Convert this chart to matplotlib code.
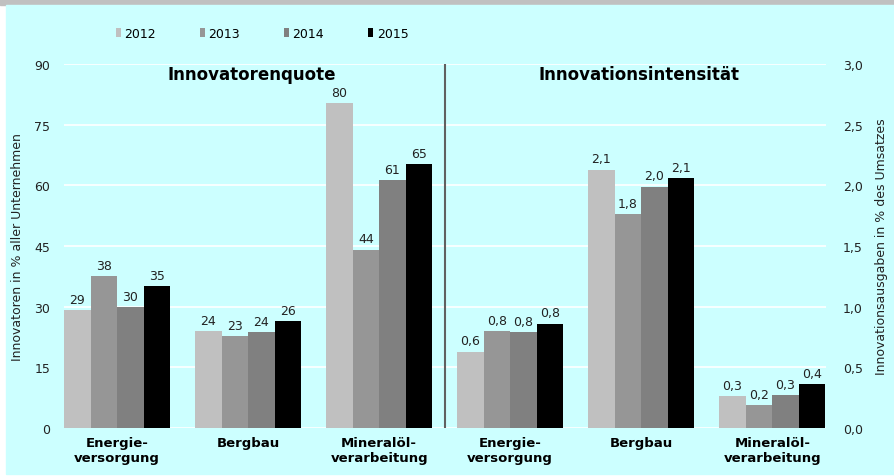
import matplotlib
matplotlib.use('Agg')
import matplotlib.pyplot as plt
from matplotlib.patches import Rectangle
import numpy

# values
years=['2012','2013','2014','2015']
branchen=['Energie-\nversorgung','Bergbau','Mineralöl-\nverarbeitung']
quote={'2012':[29.1,23.9,80.4],
       '2013':[37.6,22.8,44.1],
       '2014':[29.8,23.8,61.2],
       '2015':[35.1,26.4,65.3]}
quote_lab={'2012':[29,24,80],'2013':[38,23,44],'2014':[30,24,61],'2015':[35,26,65]}
intens={'2012':[0.63,2.13,0.26],
        '2013':[0.80,1.76,0.19],
        '2014':[0.79,1.99,0.27],
        '2015':[0.86,2.06,0.36]}
intens_lab={'2012':[0.6,2.1,0.3],'2013':[0.8,1.8,0.2],'2014':[0.8,2.0,0.3],'2015':[0.8,2.1,0.4]}
colors={'2012':'#C0C0C0','2013':'#969696','2014':'#808080','2015':'#000000'}

plt.rcParams['font.family']='DejaVu Sans'
fig=plt.figure(figsize=(8.95,4.77),dpi=100)
fig.patch.set_facecolor('white')
# background: gray band on top, cyan panel (behind the axes)
fig.patches.append(Rectangle((0,1-6/477),1,6/477,transform=fig.transFigure,color='#C0C0C0',zorder=-2))
fig.patches.append(Rectangle((6/895,2/477),1,1-8/477,transform=fig.transFigure,color='#CCFFFF',zorder=-2))

ax=fig.add_axes([64/895,1-429/477,762/895,364/477])
ax.set_facecolor('none')
ax2=ax.twinx()

w=0.2025
xl=numpy.arange(3)
xr=numpy.arange(3)+3
for i,y in enumerate(years):
   off=(i-1.5)*w
   ax.bar(xl+off,quote[y],w,color=colors[y],label=y,zorder=3)
   for k,v in enumerate(quote[y]):
      ax.annotate(str(quote_lab[y][k]),(xl[k]+off,v),xytext=(0,3),textcoords='offset points',
                  ha='center',va='bottom',fontsize=9,color='#222222')
   ax2.bar(xr+off,intens[y],w,color=colors[y],zorder=3)
   for k,v in enumerate(intens[y]):
      ax2.annotate(('%.1f'%intens_lab[y][k]).replace('.',','),(xr[k]+off,v),xytext=(0,3),
                   textcoords='offset points',ha='center',va='bottom',fontsize=9,color='#222222')

ax.set_xlim(-0.405,5.41)
ax.set_ylim(0,90)
ax2.set_ylim(0,3.0)
ax.set_yticks(numpy.arange(0,91,15))
ax2.set_yticks(numpy.arange(0,3.01,0.5))
ax2.set_yticklabels([('%.1f'%t).replace('.',',') for t in numpy.arange(0,3.01,0.5)])
ax.grid(axis='y',color='white',linewidth=1.2,zorder=0)
ax.set_axisbelow(True)
for a in (ax,ax2):
   for s in a.spines.values(): s.set_visible(False)
   a.tick_params(axis='both',length=0,labelsize=9,colors='#222222')
ax.tick_params(axis='y',pad=10)
ax2.tick_params(axis='y',pad=12)

ax.set_xticks(list(xl)+list(xr))
ax.set_xticklabels(branchen+branchen,fontweight='bold',fontsize=9.5,color='black')
ax.tick_params(axis='x',pad=6)

# separator between the two panels
ax.axvline(2.5,color='#606060',linewidth=1.5,zorder=4)

ax.text(1.03,87.5,'Innovatorenquote',ha='center',va='center',fontsize=12,fontweight='bold')
ax.text(3.98,87.5,'Innovationsintensität',ha='center',va='center',fontsize=12,fontweight='bold')

ax.set_ylabel('Innovatoren in % aller Unternehmen',fontsize=9,color='#222222',labelpad=7)
ax2.set_ylabel('Innovationsausgaben in % des Umsatzes',fontsize=9,color='#222222',labelpad=9)

fig.legend(loc='center',bbox_to_anchor=(262/895,1-34/477),ncol=4,frameon=False,fontsize=9,
           handlelength=0.4,handleheight=0.7,handletextpad=0.3,columnspacing=3.5)

plt.savefig('out.png',dpi=100)
